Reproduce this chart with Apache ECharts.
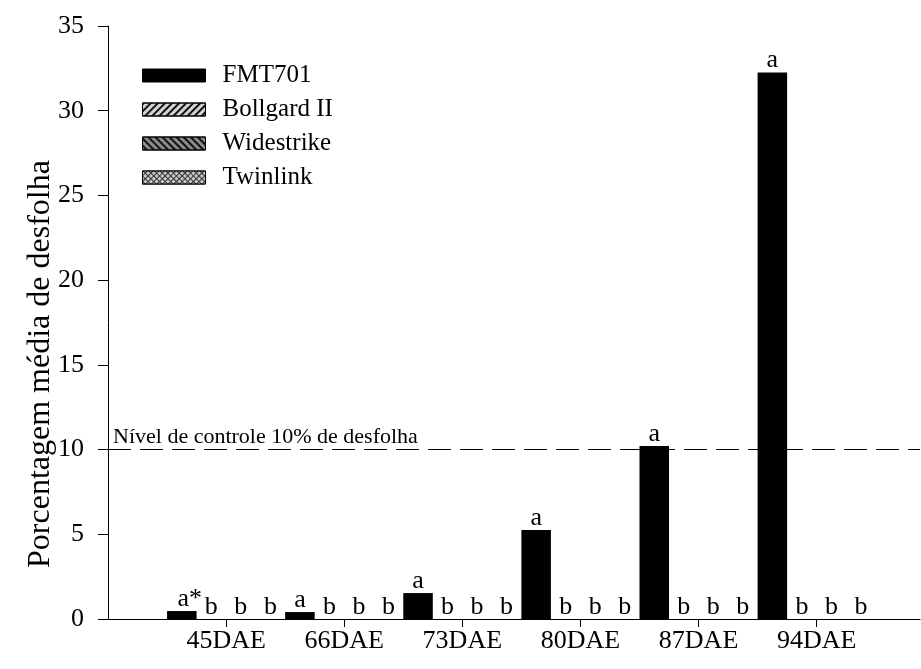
<!DOCTYPE html>
<html>
<head>
<meta charset="utf-8">
<script src="https://cdn.jsdelivr.net/npm/echarts@6/dist/echarts.min.js"></script>
<style>html,body{margin:0;padding:0;background:#fff}#c{width:921px;height:669px}</style>
</head>
<body>
<div id="c"></div>
<script>
var categories = ['45DAE', '66DAE', '73DAE', '80DAE', '87DAE', '94DAE'];
var categoryPositions = [1, 2, 3, 4, 5, 6];
var seriesNames = ['FMT701', 'Bollgard II', 'Widestrike', 'Twinlink'];
var fmt701 = [0.47, 0.41, 1.53, 5.25, 10.21, 32.25];
var bollgard = [0, 0, 0, 0, 0, 0];
var widestrike = [0, 0, 0, 0, 0, 0];
var twinlink = [0, 0, 0, 0, 0, 0];
var fmt701Letters = ['a*', 'a', 'a', 'a', 'a', 'a'];
var bollgardLetters = ['b', 'b', 'b', 'b', 'b', 'b'];
var widestrikeLetters = ['b', 'b', 'b', 'b', 'b', 'b'];
var twinlinkLetters = ['b', 'b', 'b', 'b', 'b', 'b'];
var yTicks = [0, 5, 10, 15, 20, 25, 30, 35];
var controlLevel = 10;
var controlText = 'Nível de controle 10% de desfolha';
var yTitle = 'Porcentagem média de desfolha';

var FONT = 'Liberation Serif';
var chart = echarts.init(document.getElementById('c'), null, {renderer: 'canvas'});

function build(values, letters) {
  return values.map(function (v, i) {
    var item = {value: [categoryPositions[i], v], letter: letters[i]};
    if (letters[i].length > 1) item.label = {offset: [8, 0]};
    return item;
  });
}

var styles = [
  {color: '#000'},
  {color: '#d4d4d4',
   decal: {symbol: 'rect', symbolSize: 1, dashArrayX: [[1, 0]], dashArrayY: [2, 3], rotation: -Math.PI / 4, color: '#111'}},
  {color: '#8a8a8a',
   decal: {symbol: 'rect', symbolSize: 1, dashArrayX: [[1, 0]], dashArrayY: [2, 3], rotation: Math.PI / 4, color: '#111'}},
  {color: '#333',
   decal: {symbol: 'rect', symbolSize: 1, dashArrayX: [[3, 1]], dashArrayY: [3, 1], rotation: Math.PI / 4, color: '#c8c8c8'}}
];
var allValues = [fmt701, bollgard, widestrike, twinlink];
var allLetters = [fmt701Letters, bollgardLetters, widestrikeLetters, twinlinkLetters];

var series = seriesNames.map(function (name, k) {
  var s = {
    name: name,
    type: 'bar',
    barGap: '0%',
    barCategoryGap: '0%',
    itemStyle: styles[k],
    data: build(allValues[k], allLetters[k]),
    label: {
      show: true, position: 'top', distance: -1,
      fontFamily: FONT, fontSize: 26, color: '#000',
      formatter: function (p) { return p.data.letter; }
    },
    emphasis: {disabled: true}
  };
  if (k === 0) {
    s.markLine = {
      silent: true, symbol: 'none', animation: false,
      lineStyle: {color: '#000', width: 1, type: [23, 9]},
      label: {show: true, position: 'insideStartTop', distance: [5, 1], formatter: controlText,
        fontFamily: FONT, fontSize: 22, color: '#000'},
      data: [{yAxis: controlLevel}]
    };
  }
  return s;
});

chart.setOption({
  animation: false,
  aria: {enabled: false},
  grid: {left: 108, right: 1, top: 26, bottom: 50},
  legend: {
    orient: 'vertical', left: 137, top: 58,
    icon: 'rect',
    itemWidth: 63, itemHeight: 13, itemGap: 9,
    itemStyle: {borderColor: '#000', borderWidth: 1},
    data: seriesNames,
    textStyle: {fontFamily: FONT, fontSize: 25, color: '#000', lineHeight: 25, padding: [0, 0, 0, 12]}
  },
  graphic: [{
    type: 'text', x: 41, y: 364, rotation: Math.PI / 2, silent: true,
    style: {text: yTitle, fontFamily: FONT, fontSize: 32, fill: '#000', align: 'center', verticalAlign: 'middle'}
  }],
  xAxis: {
    type: 'value', min: 0, max: 6.875, interval: 1,
    axisLine: {show: true, lineStyle: {color: '#000', width: 1}},
    axisTick: {show: true, length: 8, customValues: categoryPositions, lineStyle: {color: '#000'}},
    axisLabel: {customValues: categoryPositions, margin: 9, fontFamily: FONT, fontSize: 26, color: '#000',
      formatter: function (v) { var i = categoryPositions.indexOf(Math.round(v)); return i >= 0 ? categories[i] : ''; }},
    splitLine: {show: false}
  },
  yAxis: {
    type: 'value', min: yTicks[0], max: yTicks[yTicks.length - 1], interval: 5,
    axisLine: {show: true, lineStyle: {color: '#000', width: 1}},
    axisTick: {show: true, length: 10, lineStyle: {color: '#000'}},
    axisLabel: {margin: 24, fontFamily: FONT, fontSize: 26, color: '#000'},
    splitLine: {show: false}
  },
  series: series
});
</script>
</body>
</html>
